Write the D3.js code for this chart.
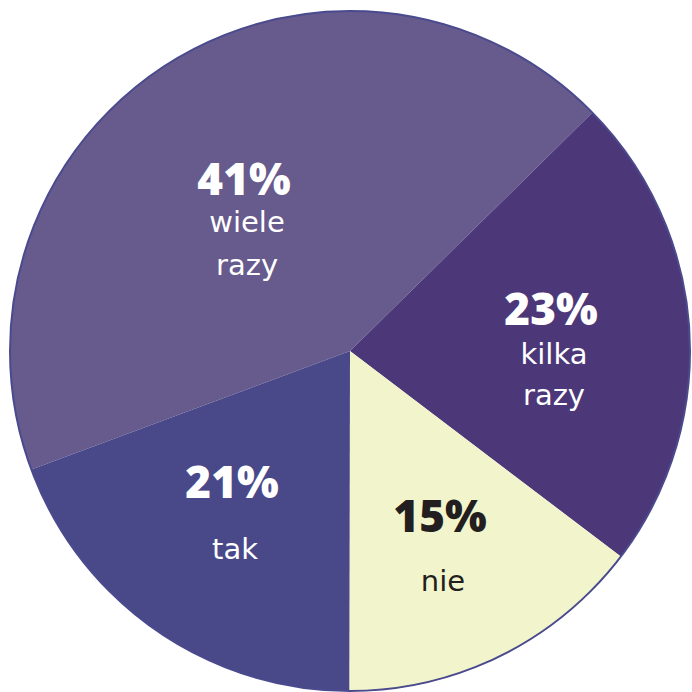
<!DOCTYPE html>
<head>
  <title>Pie</title>
  <meta charset="utf-8">
  <script src="https://cdn.jsdelivr.net/npm/d3@7"></script>
  <style>
    body { margin: 0; background: #fff; }
  </style>
</head>
<body>
<script>
    // slice order clockwise, starting at the "tak" / "wiele razy" border
    var categories = ["wiele razy", "kilka razy", "nie", "tak"];
    var percentLabels = ["41%", "23%", "15%", "21%"];
    // slice sizes as drawn (the drawing is not exactly proportional to the labels)
    var sliceValues = [43.3, 22.7, 14.7, 19.3];
    var colors = ["#675a8c", "#4c3879", "#f2f5cb", "#49498a"];
    var textColors = ["#ffffff", "#ffffff", "#231f20", "#ffffff"];

    // label anchors relative to pie centre: [dx, dy of percent baseline, line gaps]
    var labelPos = [[-106, -156, [37, 80]], [201, -26, [39, 80]], [90, 181, [59]], [-118, 147, [61]]];

    var width = 692, height = 692;
    var cx = 350, cy = 351, radius = 340;

    var svg = d3.select("body").append("svg")
        .attr("width", width)
        .attr("height", height);

    var g = svg.append("g").attr("transform", "translate(" + cx + "," + cy + ")");

    var startAngle = -110.4 * Math.PI / 180;
    var pie = d3.pie().sort(null)
        .startAngle(startAngle)
        .endAngle(startAngle + 2 * Math.PI);
    var arc = d3.arc().innerRadius(0).outerRadius(radius);

    var arcs = pie(sliceValues);

    g.selectAll("path.slice")
        .data(arcs)
        .enter()
        .append("path")
        .attr("class", "slice")
        .attr("d", arc)
        .attr("fill", function(d, i) { return colors[i]; });

    g.append("circle")
        .attr("r", radius)
        .attr("fill", "none")
        .attr("stroke", "#4a4a8e")
        .attr("stroke-width", 2);

    for (let i = 0; i < categories.length; i++) {
        var p = labelPos[i];
        g.append("text")
            .attr("x", p[0])
            .attr("y", p[1])
            .attr("text-anchor", "middle")
            .style("font-family", "'Open Sans', sans-serif")
            .style("font-weight", 800)
            .style("font-size", "44px")
            .style("fill", textColors[i])
            .text(percentLabels[i]);

        var words = categories[i].split(" ");
        words.forEach(function(w, j) {
            g.append("text")
                .attr("x", p[0] + 3)
                .attr("y", p[1] + p[2][j])
                .attr("text-anchor", "middle")
                .style("font-family", "'DejaVu Sans', sans-serif")
                .style("font-size", "29px")
                .style("fill", textColors[i])
                .text(w);
        });
    }
</script>
</body>
